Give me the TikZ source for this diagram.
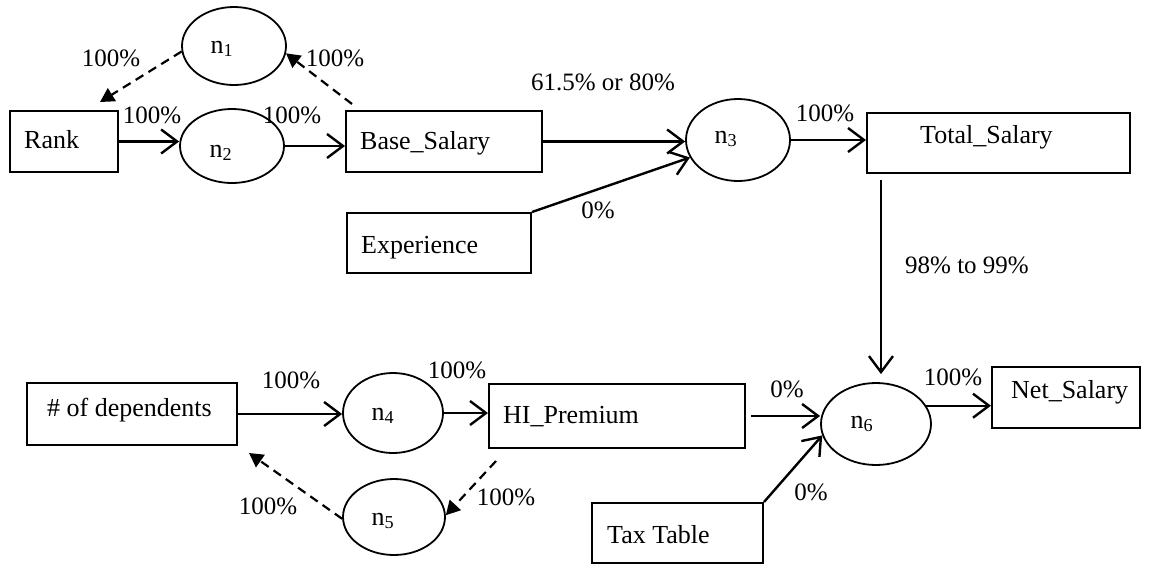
\documentclass[tikz,border=0pt]{standalone}
\usepackage{fontspec}
\setmainfont{Liberation Serif}
\usetikzlibrary{shapes.geometric,arrows.meta}
\begin{document}
\begin{tikzpicture}[x=1pt,y=-1pt,
  box/.style={draw, line width=2pt, rectangle, inner sep=0pt},
  state/.style={draw, ellipse, line width=1.8pt, inner sep=0pt},
  txt/.style={inner sep=0pt, font=\fontsize{26}{30}\selectfont, anchor=base west},
  pct/.style={inner sep=0pt, font=\fontsize{25}{30}\selectfont, anchor=base},
  nlab/.style={inner sep=0pt, font=\fontsize{26}{30}\selectfont, anchor=base},
  arr/.style={line width=2.4pt, -{Straight Barb[length=16pt,width=24pt,line width=2.4pt]}},
  darr/.style={line width=2.2pt, dash pattern=on 9pt off 6pt, -{Triangle[length=14pt,width=15pt]}},
]
\useasboundingbox (0,0) rectangle (1149,565);

% variable boxes
\node[box, minimum width=108pt, minimum height=61pt] (rank)  at (64,141.5)  {};
\node[box, minimum width=196pt, minimum height=61pt] (base)  at (444,141.5) {};
\node[box, minimum width=184pt, minimum height=60pt] (exp)   at (439,243)   {};
\node[box, minimum width=263pt, minimum height=60pt] (total) at (998.5,143) {};
\node[box, minimum width=210pt, minimum height=62pt] (deps)  at (132,414)   {};
\node[box, minimum width=256pt, minimum height=64pt] (hi)    at (617,416)   {};
\node[box, minimum width=171pt, minimum height=60pt] (tax)   at (677.5,533) {};
\node[box, minimum width=148pt, minimum height=61pt] (net)   at (1066,397.5){};

\node[txt] (trank)  at (24,148)   {Rank};
\node[txt] (tbase)  at (360,149)  {Base\_Salary};
\node[txt] (texp)   at (361,253)  {Experience};
\node[txt] (ttotal) at (920,143)  {Total\_Salary};
\node[txt] (tdeps)  at (47,416)   {\# of dependents};
\node[txt] (thi)    at (503,423)  {HI\_Premium};
\node[txt] (ttax)   at (607,543)  {Tax Table};
\node[txt] (tnet)   at (1011,398) {Net\_Salary};

% rule nodes
\node[state, minimum width=104pt, minimum height=78pt]  (n1) at (234,46)  {};
\node[state, minimum width=104pt, minimum height=74pt]  (n2) at (232,146) {};
\node[state, minimum width=104pt, minimum height=82pt]  (n3) at (738,140) {};
\node[state, minimum width=100pt, minimum height=80pt]  (n4) at (393,413) {};
\node[state, minimum width=102pt, minimum height=76pt]  (n5) at (394,517) {};
\node[state, minimum width=110pt, minimum height=82pt]  (n6) at (876,424) {};

\node[nlab] (ln1) at (222,53)  {n\textsubscript{1}};
\node[nlab] (ln2) at (221,157) {n\textsubscript{2}};
\node[nlab] (ln3) at (726,143) {n\textsubscript{3}};
\node[nlab] (ln4) at (383,420) {n\textsubscript{4}};
\node[nlab] (ln5) at (383,525) {n\textsubscript{5}};
\node[nlab] (ln6) at (862,428) {n\textsubscript{6}};

% solid connectors
\draw[arr] (rank.east) -- (rank.east -| n2.west);
\draw[arr] (n2.east) -- (n2.east -| base.west);
\draw[arr] (base.east) -- (base.east -| n3.west);
\draw[arr] (exp.north east) -- (n3.200);
\draw[arr] (n3.east) -- (n3.east -| total.west);
\draw[arr, shorten <=6pt, shorten >=8pt] ([xshift=15pt]total.south west) -- ([xshift=15pt]total.south west |- n6.north);
\draw[arr] (n6.20) -- (n6.20 -| net.west);
\draw[arr, shorten <=5pt] (hi.east) -- (hi.east -| n6.west);
\draw[arr] (tax.north east) -- (n6.192);
\draw[arr] (deps.east) -- (deps.east -| n4.west);
\draw[arr] (n4.east) -- (n4.east -| hi.west);

% dashed feedback connectors
\draw[darr] (n1.186) -- ([xshift=-19pt,yshift=8pt]rank.north east);
\draw[darr] ([xshift=7pt,yshift=6pt]base.north west) -- (n1.-8);
\draw[darr] ([xshift=8pt,yshift=-12pt]hi.south west) -- (n5.2);
\draw[darr] (n5.182) -- ([xshift=11pt,yshift=-7pt]deps.south east);

% connector labels
\node[pct] (p1)  at (111,66)  {100\%};
\node[pct] (p2)  at (335,66)  {100\%};
\node[pct] (p3)  at (152,123) {100\%};
\node[pct] (p4)  at (292,123) {100\%};
\node[pct] (p5)  at (603,90)  {61.5\% or 80\%};
\node[pct] (p6)  at (598,218) {0\%};
\node[pct] (p7)  at (825,121) {100\%};
\node[pct] (p8)  at (967,273) {98\% to 99\%};
\node[pct] (p9)  at (291,388) {100\%};
\node[pct] (p10) at (457,378) {100\%};
\node[pct] (p11) at (268,514) {100\%};
\node[pct] (p12) at (506,505) {100\%};
\node[pct] (p13) at (787,397) {0\%};
\node[pct] (p14) at (811,500) {0\%};
\node[pct] (p15) at (953,385) {100\%};
\end{tikzpicture}
\end{document}
